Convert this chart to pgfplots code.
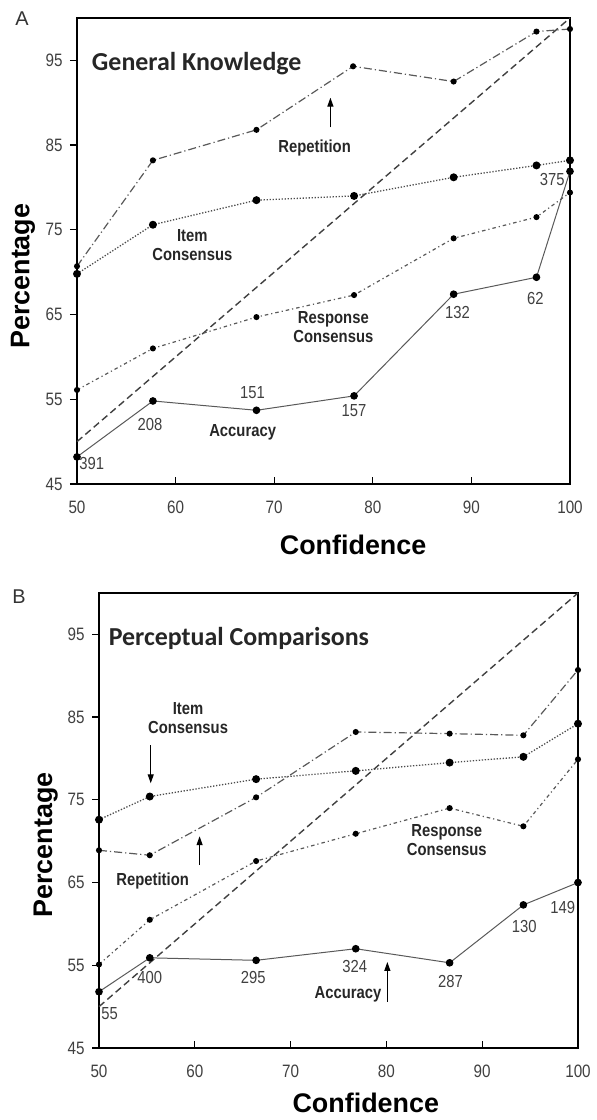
\documentclass[border=0pt]{standalone}
\usepackage{pgfplots}
\pgfplotsset{compat=1.18}
\usepackage{fontspec}
\setmainfont{Liberation Sans}
\newfontfamily\narrow{Liberation Sans}[FakeStretch=0.85]
\newfontfamily\calib{Carlito}
\usetikzlibrary{arrows.meta}

\tikzset{
  lab/.style={font=\narrow\bfseries\fontsize{17.5}{19}\selectfont, align=center, text=black!85, inner sep=0pt},
  num/.style={font=\narrow\fontsize{17.5}{17.5}\selectfont, text=black!75, inner sep=0pt},
  arr/.style={-{Triangle[length=9bp,width=6bp]}, line width=1.2bp, black},
}
\pgfplotsset{
  panel/.style={
    scale only axis, clip=false,
    xmin=50, xmax=100, ymin=45, ymax=100,
    xtick={50,60,...,100}, ytick={45,55,...,95},
    tick align=inside, tick pos=left,
    major tick length=7bp,
    every tick/.style={line width=1.2bp, black},
    ytick style={xshift=-7bp},
    axis line style={line width=2bp},
    ticklabel style={font=\narrow\fontsize{18}{18}\selectfont, text=black!75},
    /pgf/number format/assume math mode=true,
    yticklabel style={xshift=-11bp},
    xticklabel style={yshift=-13bp},
    label style={font=\bfseries\fontsize{27}{27}\selectfont, inner sep=0pt},
    xlabel={Confidence}, ylabel={Percentage},
  },
  diag/.style={black!75, line width=1.4bp, dash pattern=on 7bp off 4bp},
  acc/.style={black!65, line width=1bp, mark=*, mark size=3.3bp, mark options={solid, fill=black, draw=black}},
  item/.style={black!70, line width=1.3bp, dash pattern=on 1.3bp off 1.7bp, mark=*, mark size=3.3bp, mark options={solid, fill=black, draw=black}},
  rep/.style={black!65, line width=1.2bp, dash pattern=on 8bp off 3bp on 1.2bp off 3bp, mark=*, mark size=2.4bp, mark options={solid, fill=black, draw=black}},
  resp/.style={black!65, line width=1.2bp, dash pattern=on 3.5bp off 3bp on 1.2bp off 3bp, mark=*, mark size=2.4bp, mark options={solid, fill=black, draw=black}},
}

\begin{document}
\begin{tikzpicture}
\useasboundingbox (0,0) rectangle (597bp,-1120bp);
\node[font=\fontsize{20}{20}\selectfont, text=black!80, inner sep=0pt] at (22bp,-19bp) {A};
\node[font=\fontsize{20}{20}\selectfont, text=black!80, inner sep=0pt] at (19bp,-597bp) {B};

% Panel A: General Knowledge
\begin{axis}[panel, at={(77bp,-18bp)}, anchor=north west, width=493bp, height=466bp,
  xlabel style={at={(axis description cs:0.56,-0.131)}, anchor=center},
  ylabel style={at={(axis description cs:-0.1095,0.446)}, anchor=center, rotate=0}]
\addplot[diag] coordinates {(50,50) (100,100)};
\addplot[acc] coordinates {(50,48.2) (57.7,54.8) (68.2,53.7) (78.1,55.4) (88.2,67.4) (96.6,69.4) (100,81.9)};
\addplot[item] coordinates {(50,69.8) (57.7,75.6) (68.2,78.5) (78.1,79.0) (88.2,81.2) (96.6,82.6) (100,83.2)};
\addplot[rep] coordinates {(50,70.7) (57.7,83.2) (68.2,86.8) (78.0,94.3) (88.2,92.5) (96.6,98.4) (100,98.7)};
\addplot[resp] coordinates {(50,56.1) (57.7,61.0) (68.2,64.7) (78.1,67.3) (88.2,74.0) (96.6,76.5) (100,79.4)};
\node[anchor=west, font=\calib\bfseries\fontsize{26}{26}\selectfont, text=black!85, inner sep=0pt] at (axis cs:51.5,94.6) {General Knowledge};
\node[lab] at (axis cs:74.1,84.7) {Repetition};
\draw[arr] (axis cs:75.7,87.1) -- (axis cs:75.7,90.6);
\node[lab] at (axis cs:61.7,73.2) {Item\\Consensus};
\node[lab] at (axis cs:76.0,63.5) {Response\\Consensus};
\node[lab] at (axis cs:66.8,51.1) {Accuracy};
\node[num] at (axis cs:51.5,47.4) {391};
\node[num] at (axis cs:57.4,52.0) {208};
\node[num] at (axis cs:67.8,55.8) {151};
\node[num] at (axis cs:78.1,53.7) {157};
\node[num] at (axis cs:88.6,65.2) {132};
\node[num] at (axis cs:96.5,66.9) {62};
\node[num] at (axis cs:98.2,80.9) {375};
\end{axis}

% Panel B: Perceptual Comparisons
\begin{axis}[panel, at={(99bp,-593bp)}, anchor=north west, width=479bp, height=455bp,
  xlabel style={at={(axis description cs:0.557,-0.121)}, anchor=center},
  ylabel style={at={(axis description cs:-0.111,0.446)}, anchor=center, rotate=0}]
\addplot[diag] coordinates {(50,50) (100,100)};
\addplot[acc] coordinates {(50,51.8) (55.3,55.9) (66.4,55.6) (76.8,57.0) (86.6,55.3) (94.3,62.3) (100,65.0)};
\addplot[item] coordinates {(50,72.6) (55.3,75.4) (66.4,77.5) (76.8,78.5) (86.6,79.5) (94.3,80.2) (100,84.2)};
\addplot[rep] coordinates {(50,68.9) (55.3,68.3) (66.4,75.3) (76.8,83.2) (86.6,83.0) (94.3,82.8) (100,90.7)};
\addplot[resp] coordinates {(50,55.1) (55.3,60.5) (66.4,67.6) (76.8,70.9) (86.6,74.0) (94.3,71.8) (100,79.9)};
\node[anchor=west, font=\calib\bfseries\fontsize{26}{26}\selectfont, text=black!85, inner sep=0pt] at (axis cs:51.0,94.5) {Perceptual Comparisons};
\node[lab] at (axis cs:59.3,84.9) {Item\\Consensus};
\draw[arr] (axis cs:55.4,81.6) -- (axis cs:55.4,77.0);
\node[lab] at (axis cs:55.6,65.2) {Repetition};
\draw[arr] (axis cs:60.5,67.1) -- (axis cs:60.5,70.6);
\node[lab] at (axis cs:86.3,70.1) {Response\\Consensus};
\node[lab] at (axis cs:76.0,51.5) {Accuracy};
\draw[arr] (axis cs:80.1,50.6) -- (axis cs:80.1,55.4);
\node[num] at (axis cs:51.1,49.2) {55};
\node[num] at (axis cs:55.3,53.5) {400};
\node[num] at (axis cs:66.1,53.5) {295};
\node[num] at (axis cs:76.7,54.8) {324};
\node[num] at (axis cs:86.7,53.1) {287};
\node[num] at (axis cs:94.4,59.7) {130};
\node[num] at (axis cs:98.4,62.0) {149};
\end{axis}
\end{tikzpicture}
\end{document}
